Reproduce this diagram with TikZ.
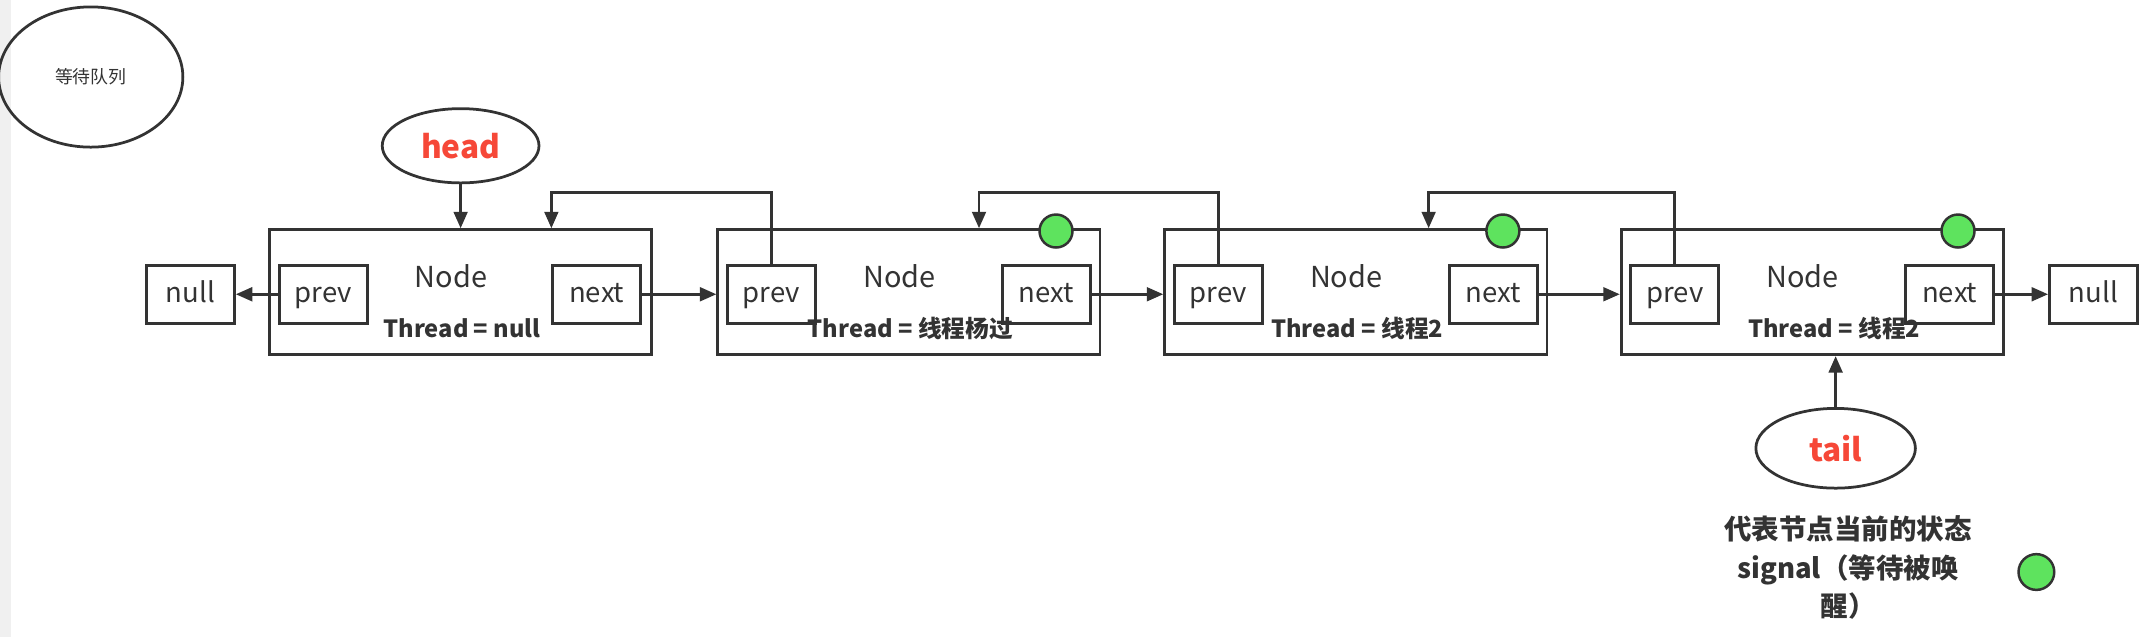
\documentclass[tikz,border=0pt]{standalone}
\usepackage{fontspec}
\setmainfont{Noto Sans CJK SC}
\usetikzlibrary{arrows.meta,shapes.geometric}
\definecolor{ln}{RGB}{51,51,51}
\definecolor{grn}{RGB}{94,227,94}
\definecolor{hred}{RGB}{246,72,56}
\definecolor{strip}{RGB}{240,240,240}
\begin{document}
\begin{tikzpicture}[x=0.5pt,y=-0.5pt,
  every node/.style={text=ln},
  nodebox/.style={draw=ln,line width=1pt,inner sep=0,minimum width=139pt,minimum height=45.5pt},
  field/.style={draw=ln,line width=1pt,inner sep=0,minimum width=32pt,minimum height=21pt,text height=7pt,text depth=1pt,font=\fontsize{10}{12}\selectfont},
  lbl/.style={inner sep=0,font=\fontsize{10.5}{12}\selectfont},
  thr/.style={inner sep=0,font=\fontsize{8.6}{11}\selectfont\bfseries},
  oval/.style={ellipse,draw=ln,line width=1pt,inner sep=0},
  sig/.style={circle,draw=ln,line width=0.9pt,fill=grn,inner sep=0,minimum size=12pt},
  arr/.style={draw=ln,line width=1pt,-{Triangle[length=6pt,width=5pt]}}]
\useasboundingbox (0,0) rectangle (1568,463);
\fill[strip] (0,0) rectangle (8,463);

% waiting queue label
\node[oval,minimum width=67pt,minimum height=51pt,font=\fontsize{6.5}{8}\selectfont] (wq) at (66,56) {等待队列};

% head / tail
\node[oval,minimum width=57pt,minimum height=27pt,text=hred,font=\fontsize{11.5}{13}\selectfont\bfseries] (head) at (335,106) {head};
\node[oval,minimum width=58pt,minimum height=29pt,text=hred,font=\fontsize{11.5}{13}\selectfont\bfseries] (tail) at (1335,326) {tail};

% node boxes
\node[nodebox] (n1) at (335,212.5) {};
\node[nodebox] (n2) at (661,212.5) {};
\node[nodebox] (n3) at (986,212.5) {};
\node[nodebox] (n4) at (1318,212.5) {};

% fields
\node[field] (p1) at (235,214) {prev};
\node[field] (x1) at (434,214) {next};
\node[field] (p2) at (561,214) {prev};
\node[field] (x2) at (761,214) {next};
\node[field] (p3) at (886,214) {prev};
\node[field] (x3) at (1086,214) {next};
\node[field] (p4) at (1218,214) {prev};
\node[field] (x4) at (1418,214) {next};
\node[field] (nl) at (138.5,214) {null};
\node[field] (nr) at (1522.5,214) {null};

% labels
\node[lbl] (l1) at (328,201) {Node};
\node[lbl] (l2) at (654,201) {Node};
\node[lbl] (l3) at (979,201) {Node};
\node[lbl] (l4) at (1311,201) {Node};
\node[thr] (t1) at (336,239) {Thread = null};
\node[thr] (t2) at (662,239) {Thread = 线程杨过};
\node[thr] (t3) at (987,239) {Thread = 线程2};
\node[thr] (t4) at (1334,239) {Thread = 线程2};

% status circles
\node[sig] (s2) at (768,168) {};
\node[sig] (s3) at (1093,168) {};
\node[sig] (s4) at (1424,168) {};

% forward links
\draw[arr] (p1.west) -- (nl.east);
\draw[arr] (x1.east) -- (n2.west |- x1.east);
\draw[arr] (x2.east) -- (n3.west |- x2.east);
\draw[arr] (x3.east) -- (n4.west |- x3.east);
\draw[arr] (x4.east) -- (nr.west);

% back links
\coordinate (b1) at (401,140);
\coordinate (b2) at (712,140);
\coordinate (b3) at (1039,140);
\draw[arr] (p2.north) |- (b1) -- (b1 |- n1.north);
\draw[arr] (p3.north) |- (b2) -- (b2 |- n2.north);
\draw[arr] (p4.north) |- (b3) -- (b3 |- n3.north);

% head / tail pointers
\draw[arr] (head.south) -- (head.south |- n1.north);
\draw[arr] (tail.north) -- (tail.north |- n4.south);

% legend
\node[inner sep=0,align=center,font=\fontsize{10}{14}\selectfont\bfseries] (leg) at (1344,413) {代表节点当前的状态\\signal（等待被唤\\醒）};
\node[sig,minimum size=13pt] (ls) at (1481,416) {};
\end{tikzpicture}
\end{document}
